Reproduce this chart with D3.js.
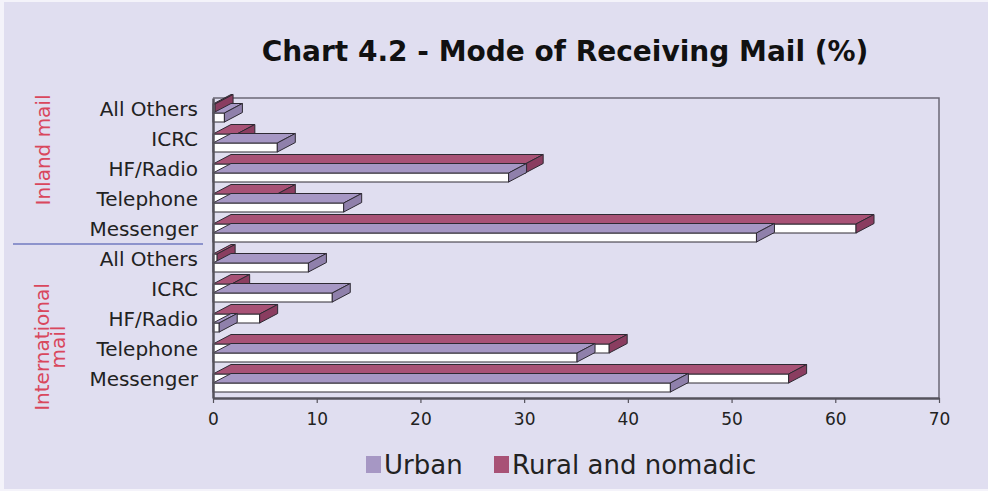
<!DOCTYPE html>
<html>
<head>
<meta charset="utf-8">
<script src="https://cdn.jsdelivr.net/npm/d3@7"></script>
<style>
  html, body { margin: 0; padding: 0; background: #f4f3fa; }
  svg { display: block; }
</style>
</head>
<body>
<svg id="chart" width="988" height="491"></svg>
<script>
// ---- data ----
const categories = ["All Others", "ICRC", "HF/Radio", "Telephone", "Messenger"];
const groups = ["Inland mail", "International mail"];
const urbanInland = [1.1, 6.2, 28.5, 12.6, 52.4];
const ruralInland = [0.2, 2.3, 30.1, 6.2, 62.0];
const urbanIntl = [9.2, 11.5, 0.6, 35.1, 44.1];
const ruralIntl = [0.4, 1.8, 4.5, 38.2, 55.5];
const seriesNames = ["Urban", "Rural and nomadic"];
const xTicks = [0, 10, 20, 30, 40, 50, 60, 70];
const title = "Chart 4.2 - Mode of Receiving Mail (%)";

// ---- build rows ----
const rows = [];
categories.forEach((c, i) => rows.push({ id: "in" + i, cat: c, group: groups[0], urban: urbanInland[i], rural: ruralInland[i] }));
categories.forEach((c, i) => rows.push({ id: "int" + i, cat: c, group: groups[1], urban: urbanIntl[i], rural: ruralIntl[i] }));

const colors = {
  bg: "#e0def0",
  urbanTop: "#a697c4", urbanSide: "#8f80ab",
  ruralTop: "#a85276", ruralSide: "#8a3d60",
  front: "#ffffff", stroke: "#2e2a33"
};

const svg = d3.select("#chart");
svg.append("rect").attr("x", 4).attr("y", 2).attr("width", 984).attr("height", 487).attr("fill", colors.bg);

const x = d3.scaleLinear().domain([0, 70]).range([213, 939]);
const y = d3.scaleBand().domain(rows.map(r => r.id)).range([98, 398]);

// plot frame (top and right)
svg.append("path")
  .attr("d", `M${x(0)},${y.range()[0]}H${x(70)}V${y.range()[1]}`)
  .attr("fill", "none").attr("stroke", "#6b6875").attr("stroke-width", 1.5);

const DX = 18, DY = 9.5, H = 9;

function box(g, v, yTop, topFill, sideFill) {
  const x0 = x(0), x1 = x(v);
  g.append("rect").attr("x", x0).attr("y", yTop).attr("width", Math.max(0, x1 - x0)).attr("height", H)
    .attr("fill", colors.front).attr("stroke", colors.stroke).attr("stroke-width", 1);
  g.append("path")
    .attr("d", `M${x0},${yTop}L${x1},${yTop}L${x1 + DX},${yTop - DY}L${x0 + DX},${yTop - DY}Z`)
    .attr("fill", topFill).attr("stroke", colors.stroke).attr("stroke-width", 1).attr("stroke-linejoin", "round");
  g.append("path")
    .attr("d", `M${x1},${yTop}L${x1 + DX},${yTop - DY}L${x1 + DX},${yTop - DY + H}L${x1},${yTop + H}Z`)
    .attr("fill", sideFill).attr("stroke", colors.stroke).attr("stroke-width", 1).attr("stroke-linejoin", "round");
}

const barsG = svg.append("g");
rows.forEach(r => {
  const c = y(r.id) + y.bandwidth() / 2;
  const g = barsG.append("g");
  box(g, r.rural, c - H, colors.ruralTop, colors.ruralSide);
  box(g, r.urban, c, colors.urbanTop, colors.urbanSide);
});

// x axis
const xAxis = svg.append("g").attr("transform", `translate(0,${y.range()[1]})`)
  .call(d3.axisBottom(x).tickValues(xTicks).tickSize(5).tickSizeOuter(0).tickPadding(10));
xAxis.select(".domain").attr("stroke", "#55525c").attr("stroke-width", 2.5);
xAxis.selectAll(".tick line").attr("stroke", "#55525c").attr("stroke-width", 1.2);
xAxis.selectAll(".tick text").attr("font-family", "DejaVu Sans, sans-serif").attr("font-size", 17).attr("fill", "#222");

// y axis
const yAxis = svg.append("g").attr("transform", `translate(${x(0)},0)`)
  .call(d3.axisLeft(y).tickSize(0).tickPadding(15).tickFormat(id => rows.find(r => r.id === id).cat));
yAxis.select(".domain").attr("stroke", "#55525c").attr("stroke-width", 2.5);
yAxis.selectAll(".tick text").attr("font-family", "DejaVu Sans, sans-serif").attr("font-size", 20)
  .attr("fill", "#222").attr("dy", "0.15em");

// group separator
svg.append("line").attr("x1", 13).attr("x2", 203).attr("y1", 244).attr("y2", 244)
  .attr("stroke", "#8d93cc").attr("stroke-width", 2);

// group labels
const gl = svg.append("g").attr("font-family", "DejaVu Sans, sans-serif").attr("font-size", 20).attr("fill", "#d9475d");
gl.append("text").attr("transform", "translate(50,150) rotate(-90)").attr("text-anchor", "middle").text(groups[0]);
const intl = gl.append("text").attr("transform", "translate(49,347) rotate(-90)").attr("text-anchor", "middle");
intl.append("tspan").attr("x", 0).attr("dy", 0).text("International");
intl.append("tspan").attr("x", 0).attr("dy", "0.8em").text("mail");

// title
svg.append("text").attr("x", 565).attr("y", 61).attr("text-anchor", "middle")
  .attr("font-family", "DejaVu Sans, sans-serif").attr("font-weight", "bold").attr("font-size", 28)
  .attr("fill", "#111").text(title);

// legend
const leg = svg.append("g").attr("font-family", "DejaVu Sans, sans-serif").attr("font-size", 26).attr("fill", "#222");
const legItems = [
  { name: seriesNames[0], color: colors.urbanTop, x: 366 },
  { name: seriesNames[1], color: colors.ruralTop, x: 494 }
];
legItems.forEach(d => {
  leg.append("rect").attr("x", d.x).attr("y", 456).attr("width", 15).attr("height", 17).attr("fill", d.color);
  leg.append("text").attr("x", d.x + 18).attr("y", 474).text(d.name);
});
</script>
</body>
</html>
